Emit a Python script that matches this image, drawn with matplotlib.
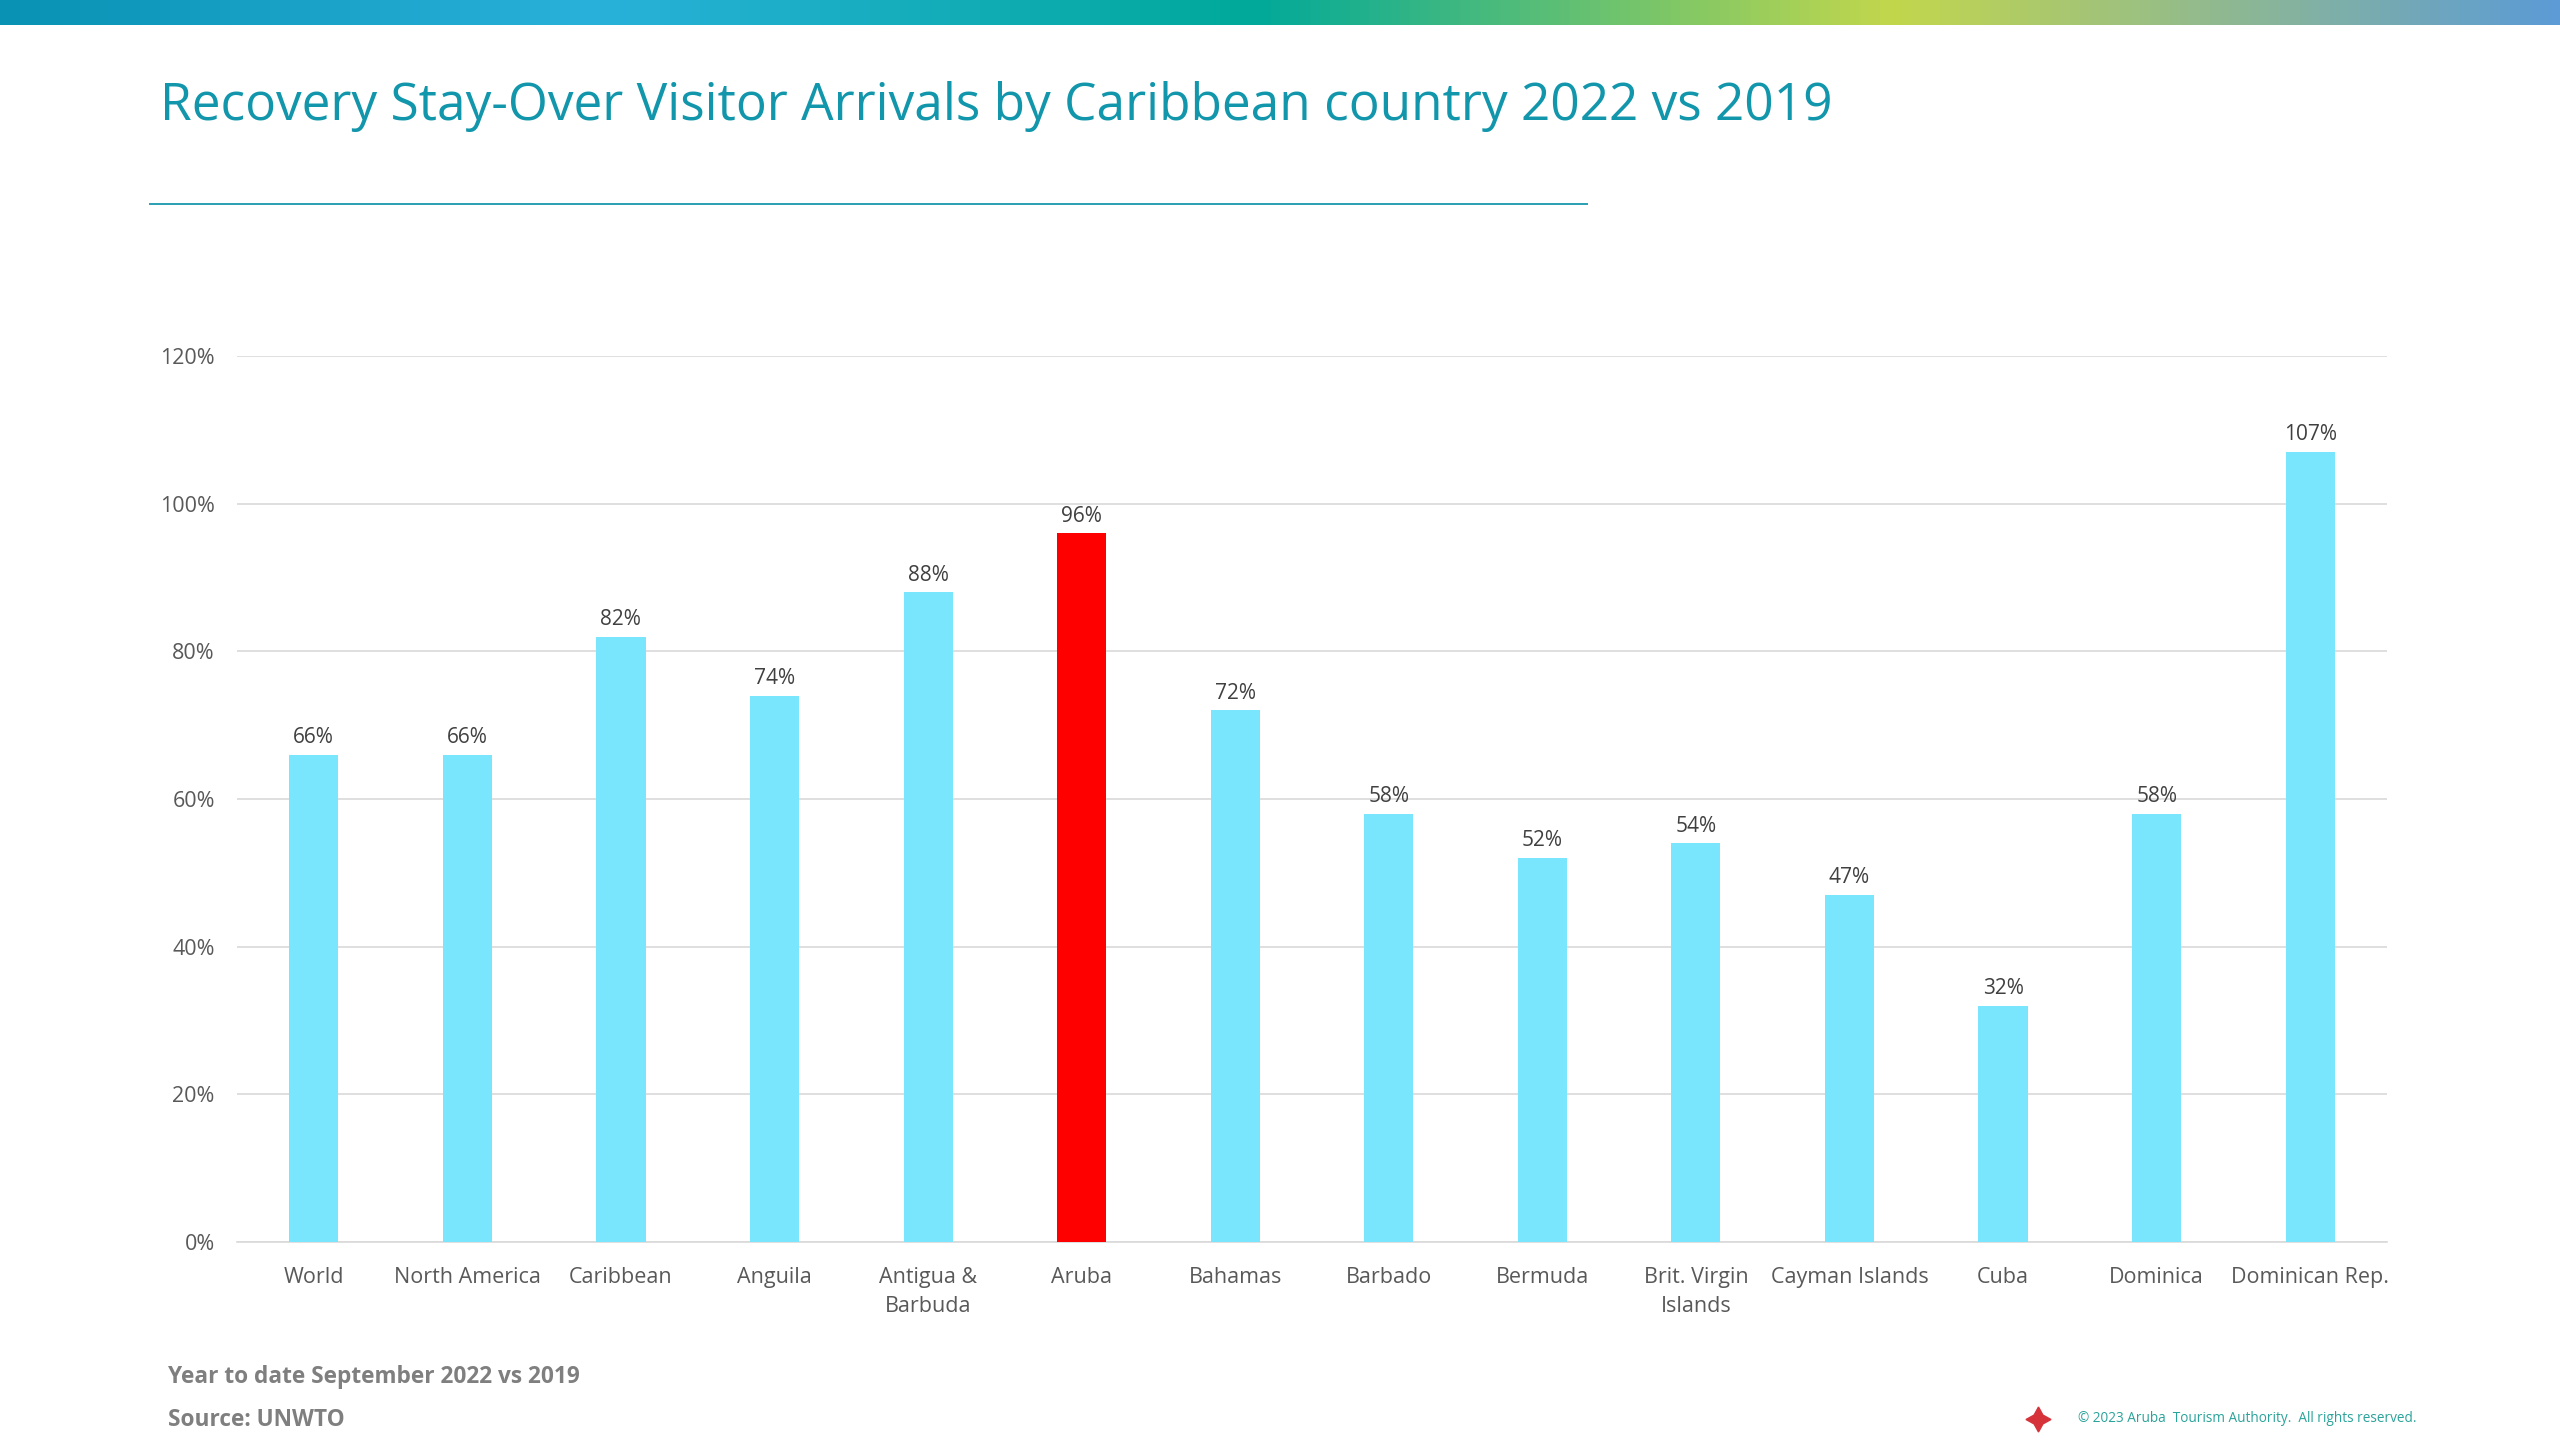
import matplotlib

matplotlib.use("Agg")
import matplotlib.pyplot as plt
import numpy as np
from matplotlib.colors import LinearSegmentedColormap
from matplotlib.ticker import PercentFormatter

categories = [
    "World", "North America", "Caribbean", "Anguila", "Antigua &\nBarbuda", "Aruba",
    "Bahamas", "Barbado", "Bermuda", "Brit. Virgin\nIslands", "Cayman Islands", "Cuba",
    "Dominica", "Dominican Rep.",
]
recovery = [66, 66, 82, 74, 88, 96, 72, 58, 52, 54, 47, 32, 58, 107]
highlight = "Aruba"

title = "Recovery Stay-Over Visitor Arrivals by Caribbean country 2022 vs 2019"
note = "Year to date September 2022 vs 2019"
source = "Source: UNWTO"
copyright_text = "\u00a9 2023 Aruba  Tourism Authority.  All rights reserved."

FONT = "Open Sans"
W, H = 2560, 1440

fig = plt.figure(figsize=(25.6, 14.4), dpi=100)

# gradient band at the very top
band = fig.add_axes([0, 1 - 25 / H, 1, 25 / H])
cmap = LinearSegmentedColormap.from_list(
    "band",
    [(0.0, "#0a92b4"), (0.23, "#29b1db"), (0.49, "#00a99a"), (0.74, "#c3d74c"), (1.0, "#5c9bd6")],
)
band.imshow(np.linspace(0, 1, 512)[None, :], aspect="auto", cmap=cmap, extent=[0, 1, 0, 1])
band.set_axis_off()

fig.text(160 / W, 1 - 107 / H, title, fontsize=37, color="#1296ab", family=FONT, va="center", ha="left")
fig.add_artist(plt.Line2D([150 / W, 1587 / W], [1 - 204 / H] * 2, color="#2a9fb2", lw=1.4))

ax = fig.add_axes([237 / W, 1 - 1242 / H, (2387 - 237) / W, (1242 - 356) / H])
x = np.arange(len(categories))
colors = ["#ff0000" if c == highlight else "#7ae6fd" for c in categories]
ax.bar(x, recovery, width=0.32, color=colors, zorder=3)
for xi, v in zip(x, recovery):
    ax.text(xi, v + 0.9, f"{v}%", ha="center", va="bottom", fontsize=15, color="#404040", family=FONT)

ax.set_xlim(-0.5, len(categories) - 0.5)
ax.set_ylim(0, 120)
ax.set_yticks(np.arange(0, 121, 20))
ax.yaxis.set_major_formatter(PercentFormatter(decimals=0))
ax.grid(axis="y", color="#d9d9d9", lw=1.2, zorder=0)
for s in ["top", "right", "left"]:
    ax.spines[s].set_visible(False)
ax.spines["bottom"].set_color("#d9d9d9")
ax.spines["bottom"].set_linewidth(1.2)
ax.set_xticks(x)
ax.set_xticklabels(categories, fontsize=15.5, color="#595959", family=FONT, linespacing=1.5)
ax.tick_params(axis="both", length=0)
ax.tick_params(axis="x", pad=18)
ax.tick_params(axis="y", pad=16, labelsize=15.5, labelcolor="#595959")
for lbl in ax.get_yticklabels():
    lbl.set_family(FONT)

fig.text(168 / W, 1 - 1377 / H, note, fontsize=16.3, fontweight="bold", color="#7f7f7f", family=FONT, va="center")
fig.text(168 / W, 1 - 1420 / H, source, fontsize=16.3, fontweight="bold", color="#7f7f7f", family=FONT, va="center")

fig.add_artist(plt.Line2D([2038 / W], [1 - 1419 / H], marker=(4, 1, 0), markersize=18, color="#d6323a", lw=0))
fig.text(2078 / W, 1 - 1418 / H, copyright_text, fontsize=9.8, color="#2aa39a", family=FONT, va="center")

fig.savefig("out.png", dpi=100)
